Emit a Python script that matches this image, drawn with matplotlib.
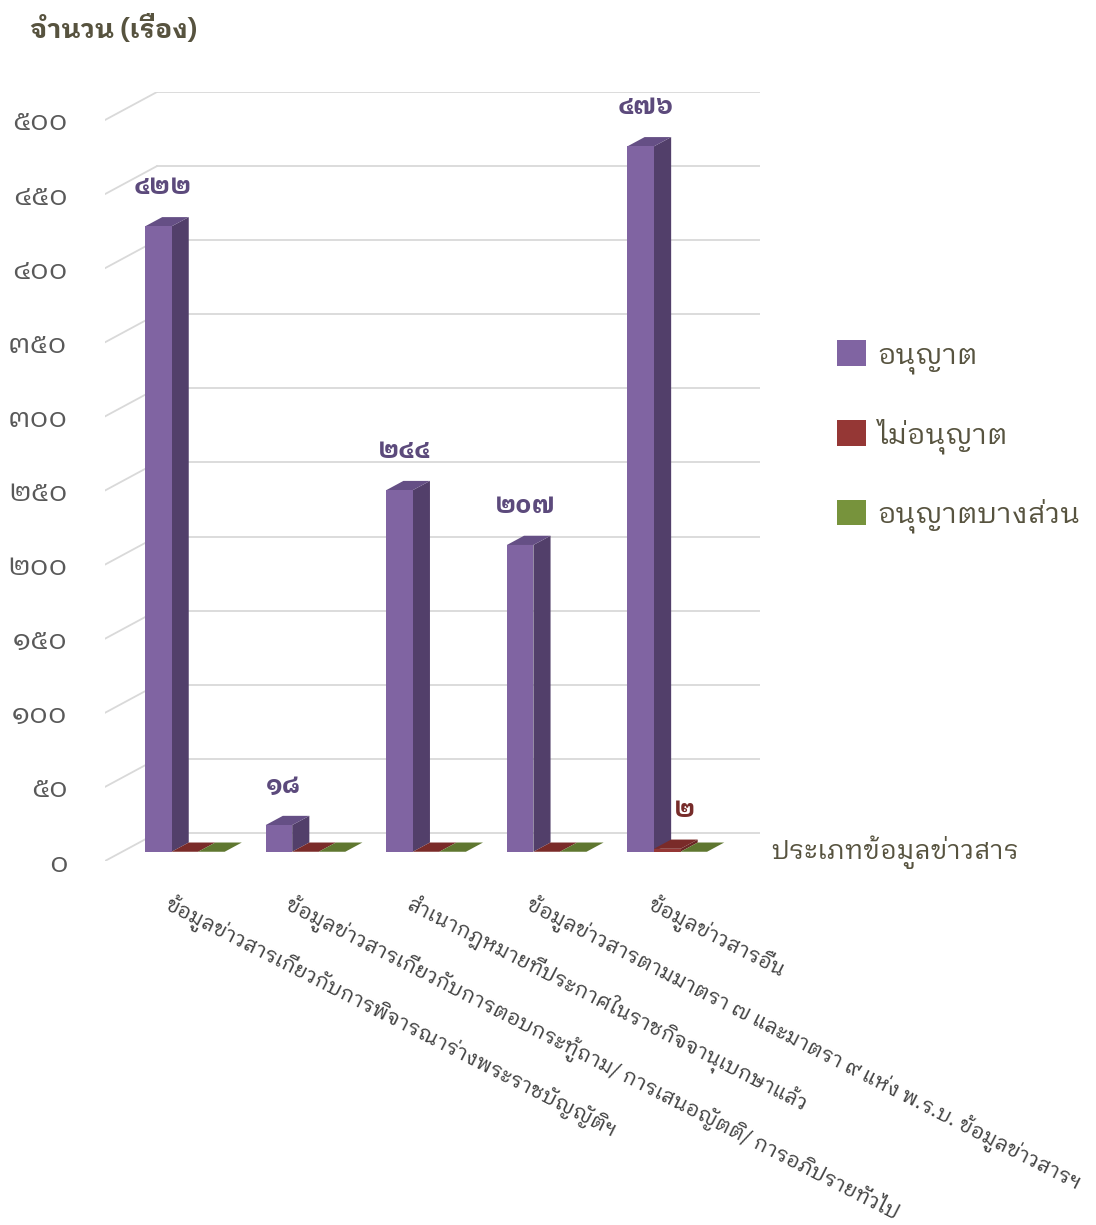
import matplotlib
matplotlib.use('Agg')
import matplotlib.pyplot as plt
from matplotlib.patches import Polygon, Patch

plt.rcParams['font.family'] = ['IBM Plex Sans Thai Looped', 'Noto Sans Thai Looped',
                               'Noto Sans Thai', 'DejaVu Sans']

# --- data ---
categories = [
    'ข้อมูลข่าวสารเกี่ยวกับการพิจารณาร่างพระราชบัญญัติฯ',
    'ข้อมูลข่าวสารเกี่ยวกับการตอบกระทู้ถาม/ การเสนอญัตติ/ การอภิปรายทั่วไป',
    'สำเนากฎหมายที่ประกาศในราชกิจจานุเบกษาแล้ว',
    'ข้อมูลข่าวสารตามมาตรา ๗ และมาตรา ๙ แห่ง พ.ร.บ. ข้อมูลข่าวสารฯ',
    'ข้อมูลข่าวสารอื่น',
]
series_names = ['อนุญาต', 'ไม่อนุญาต', 'อนุญาตบางส่วน']
allowed = [422, 18, 244, 207, 476]
denied = [0, 0, 0, 0, 2]
partial = [0, 0, 0, 0, 0]
yticks = list(range(0, 501, 50))

thai_digits = str.maketrans('0123456789', '๐๑๒๓๔๕๖๗๘๙')


def th(n):
    return str(n).translate(thai_digits)


# colours: front, side, top
colors = [('#8064A2', '#523F6A', '#654F85'),
          ('#953735', '#6B2725', '#7A2B29'),
          ('#77933C', '#55692B', '#5F7730')]
label_colors = ['#5C4A7C', '#772C2A', '#55692B']
text_col = '#57533F'
grid_col = '#D9D9D9'

fig = plt.figure(figsize=(10.96, 12.25), dpi=100)
ax = fig.add_axes([105 / 1096, 1 - 861 / 1225, 655 / 1096, 769 / 1225])
ax.set_xlim(0, 655 / 120.6)
ax.set_ylim(0, 769 / 1.482)

DX, DY = 0.431, 18.9        # depth of the wall (data units)
f = 0.33                   # depth fraction of bar front / bar depth
SX, SY = DX * f, DY * f
w = 0.22
start = 0.19

# walls / gridlines
for v in yticks:
    ax.plot([0, DX], [v, v + DY], color=grid_col, lw=1.3, zorder=1)
    ax.plot([DX, ax.get_xlim()[1]], [v + DY, v + DY], color=grid_col, lw=1.3, zorder=1)

# bars
all_series = [allowed, denied, partial]
for i in range(len(categories)):
    for s, vals in enumerate(all_series):
        v = vals[i]
        x0 = i + start + s * w + SX
        y0 = SY
        z = 3 + i * 3 + s
        side = Polygon([(x0 + w, y0), (x0 + w + SX, y0 + SY),
                        (x0 + w + SX, y0 + SY + v), (x0 + w, y0 + v)],
                       closed=True, facecolor=colors[s][1], edgecolor='none', zorder=z)
        top = Polygon([(x0, y0 + v), (x0 + SX, y0 + SY + v),
                       (x0 + w + SX, y0 + SY + v), (x0 + w, y0 + v)],
                      closed=True, facecolor=colors[s][2], edgecolor='none', zorder=z)
        ax.add_patch(side)
        ax.add_patch(top)
        ax.bar(x0, v, width=w, bottom=y0, align='edge', color=colors[s][0],
               edgecolor='none', zorder=z)
        if v > 0:
            lx = x0 + w / 2 + (0.04 if s == 0 else 0.14)
            ax.text(lx, y0 + SY + v + 20, th(v), ha='center', va='center',
                    fontsize=18.5, fontweight='bold', color=label_colors[s], zorder=30)

# axes
for sp in ax.spines.values():
    sp.set_visible(False)
ax.set_yticks(yticks, labels=[th(t) for t in yticks])
ax.tick_params(axis='y', length=0, pad=27, labelsize=21, labelcolor='#595959')
ax.set_xticks([i + 0.56 for i in range(len(categories))])
ax.set_xticklabels(categories, rotation=-27, ha='left', va='top',
                   rotation_mode='anchor', fontsize=15, color='#404040')
ax.tick_params(axis='x', length=0, pad=22)

fig.text(30 / 1096, 1 - 30 / 1225, 'จำนวน (เรื่อง)', fontsize=19.4, fontweight='bold',
         color=text_col, va='center', ha='left')
fig.text(771 / 1096, 1 - 852 / 1225, 'ประเภทข้อมูลข่าวสาร', fontsize=19,
         color=text_col, va='center', ha='left')

handles = [Patch(facecolor=colors[s][0], edgecolor='none') for s in range(3)]
leg = fig.legend(handles, series_names, loc='upper left',
                 bbox_to_anchor=(823 / 1096, 1 - 326 / 1225), frameon=False,
                 fontsize=20.7, handlelength=1.0, handleheight=1.0,
                 handletextpad=0.4, labelspacing=1.55, borderpad=0)
for t in leg.get_texts():
    t.set_color(text_col)

fig.savefig('out.png', dpi=100)
